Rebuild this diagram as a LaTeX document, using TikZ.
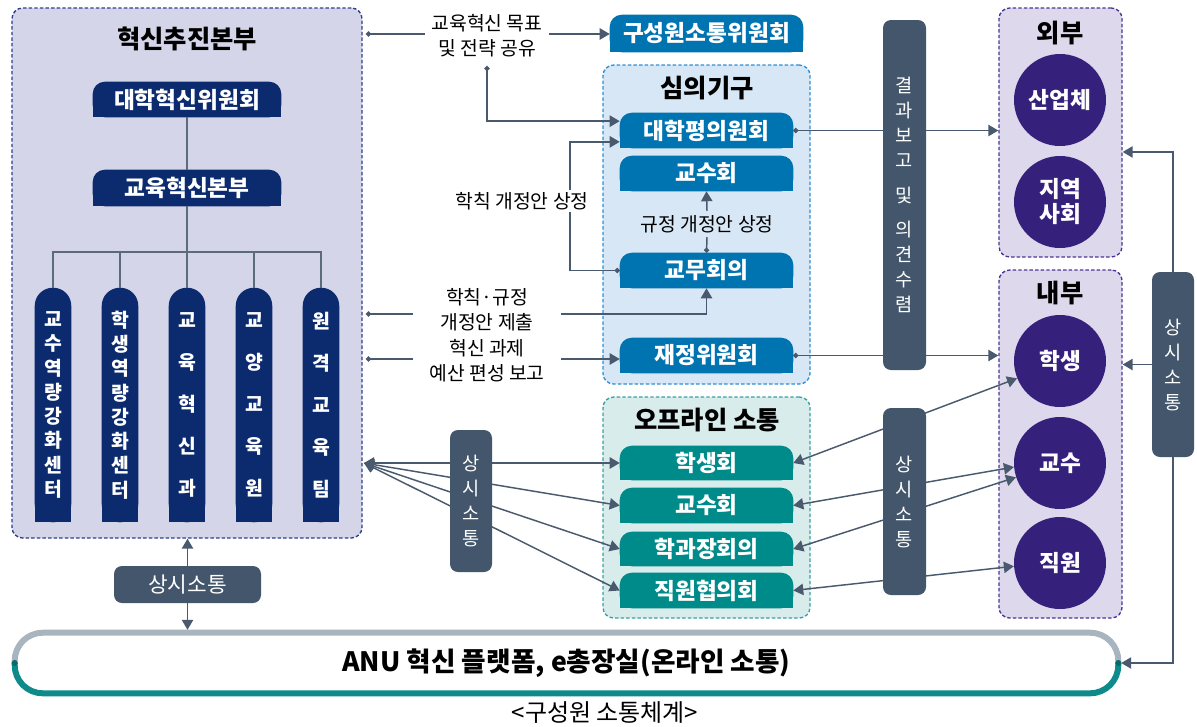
\documentclass[tikz,border=0pt]{standalone}
\usepackage{fontspec}
\newfontfamily\kr{Noto Sans CJK KR}
\usetikzlibrary{arrows.meta,fit}
\pgfdeclarelayer{bg}
\pgfdeclarelayer{mid}
\pgfsetlayers{bg,mid,main}
\definecolor{lnc}{HTML}{4A5A6E}
\definecolor{busc}{HTML}{5C6B7C}
\definecolor{navy}{HTML}{0C2B6F}
\definecolor{blu}{HTML}{0073B1}
\definecolor{tealc}{HTML}{008B8B}
\definecolor{slate}{HTML}{43566B}
\definecolor{purp}{HTML}{35217B}
\definecolor{lav}{HTML}{D5D5E9}
\definecolor{lavb}{HTML}{2E3E8E}
\definecolor{ltb}{HTML}{D7E7F5}
\definecolor{ltbb}{HTML}{2F8FD6}
\definecolor{ltt}{HTML}{D8ECEC}
\definecolor{lttb}{HTML}{3A9FA0}
\definecolor{plav}{HTML}{DDD8EB}
\definecolor{plavb}{HTML}{4A3596}
\definecolor{pgrey}{HTML}{A9B5BE}
\definecolor{pteal}{HTML}{0E8A8A}
\definecolor{pdark}{HTML}{0A6A6A}
\tikzset{
 bx/.style n args={4}{minimum width={((#3)-(#1))*0.75pt}, minimum height={((#4)-(#2))*0.75pt}, at={({((#1)+(#3))/2},{((#2)+(#4))/2})}},
 ln/.style={draw=lnc, line width=1.1pt},
 busln/.style={draw=busc, line width=1.1pt},
 arrowend/.style={-{Triangle[length=7.5pt,width=8.5pt]}},
 dtip/.style={{Circle[length=3.8pt]}-{Triangle[length=7.5pt,width=8.5pt]}},
 dstart/.style={{Circle[length=3.8pt]}-},
 twoway/.style={{Triangle[length=7.5pt,width=8.5pt]}-{Triangle[length=7.5pt,width=8.5pt]}},
 cont/.style={inner sep=0pt, dash pattern=on 2.6pt off 1.6pt, line width=1pt, rounded corners=8pt},
 ttl/.style={font=\kr\bfseries\fontsize{19}{22}\selectfont, text=black},
 lbl/.style={font=\kr\fontsize{14.5}{18.75}\selectfont, align=center, text=black},
 wt/.style={inner sep=0pt, text=white, font=\kr\bfseries\fontsize{17}{20}\selectfont, align=center},
 slatebox/.style={inner sep=0pt, fill=slate, rounded corners=6pt, text=white, align=center, font=\kr\fontsize{14}{18.75}\selectfont},
 circ/.style={circle, fill=purp, minimum size=69pt, inner sep=0pt, text=white, align=center, font=\kr\bfseries\fontsize{17}{18.75}\selectfont},
}
\newcommand{\tbox}[7]{%
 \node[wt, bx={#2}{#3}{#4}{#5}] (#1) {#7};
 \begin{pgfonlayer}{mid}
 \fill[#6, rounded corners=9pt] (#1.south west) rectangle (#1.north east);
 \fill[#6] (#1.south west) rectangle (#1.east);
 \end{pgfonlayer}}
\newcommand{\pbox}[4]{%
 \node[wt, bx={#2-18}{288}{#2+18}{522}, font=\kr\bfseries\fontsize{14.5}{#3}\selectfont] (#1) {#4};
 \begin{pgfonlayer}{mid}
 \fill[navy, rounded corners=13.5pt] (#1.south west) rectangle (#1.north east);
 \fill[navy] (#1.south west) rectangle (#1.east);
 \end{pgfonlayer}}
\begin{document}
\begin{tikzpicture}[x=0.75pt,y=-0.75pt,font=\kr]
\useasboundingbox (0,0) rectangle (1197,726);
% containers
\begin{pgfonlayer}{bg}
\node[cont, fit={(12,8) (362,538)}, fill=lav, draw=lavb] (hq) {};
\node[cont, fit={(603,65) (810,384)}, fill=ltb, draw=ltbb] (delib) {};
\node[cont, fit={(603,397) (810,618)}, fill=ltt, draw=lttb] (off) {};
\node[cont, fit={(999,8) (1122,257)}, fill=plav, draw=plavb] (ext) {};
\node[cont, fit={(999,270) (1122,618)}, fill=plav, draw=plavb] (int) {};
\end{pgfonlayer}
% titles
\node[ttl] (t1) at (187,39) {혁신추진본부};
\node[ttl] (t2) at (707,88) {심의기구};
\node[ttl] (t3) at (707,420) {오프라인 소통};
\node[ttl] (t4) at (1060,33) {외부};
\node[ttl] (t5) at (1060,293) {내부};
% navy boxes
\tbox{uic}{93}{82}{281}{117}{navy}{대학혁신위원회}
\tbox{ehb}{93}{170}{281}{206}{navy}{교육혁신본부}
\pbox{p1}{53}{18.2pt}{교\\수\\역\\량\\강\\화\\센\\터}
\pbox{p2}{120}{18.2pt}{학\\생\\역\\량\\강\\화\\센\\터}
\pbox{p3}{187}{31.5pt}{교\\육\\혁\\신\\과}
\pbox{p4}{254}{31.5pt}{교\\양\\교\\육\\원}
\pbox{p5}{321}{31.5pt}{원\\격\\교\\육\\팀}
\coordinate (busy) at (187,252);
\draw[busln] (uic.south) -- (ehb.north);
\draw[busln] (ehb.south) -- (p3.north);
\draw[busln] (p1.north) -- (p1.north |- busy) -- (p5.north |- busy) -- (p5.north);
\draw[busln] (p2.north) -- (p2.north |- busy);
\draw[busln] (p4.north) -- (p4.north |- busy);
% blue boxes
\tbox{kso}{610}{15}{803}{52}{blu}{구성원소통위원회}
\tbox{pyeong}{620}{113}{793}{148}{blu}{대학평의원회}
\tbox{kyosu}{620}{156}{793}{191}{blu}{교수회}
\tbox{gm}{620}{253}{793}{288}{blu}{교무회의}
\tbox{jj}{620}{338}{793}{373}{blu}{재정위원회}
% teal boxes
\tbox{hs}{620}{446}{793}{480}{tealc}{학생회}
\tbox{kh}{620}{488}{793}{523}{tealc}{교수회}
\tbox{hg}{620}{532}{793}{566}{tealc}{학과장회의}
\tbox{jw}{620}{573}{793}{608}{tealc}{직원협의회}
% slate boxes
\node[slatebox, bx={883}{20}{926}{370}] (res) {결\\과\\보\\고\\[7pt]및\\[7pt]의\\견\\수\\렴};
\node[slatebox, bx={450}{430}{492}{572}] (ms) {상\\시\\소\\통};
\node[slatebox, bx={883}{408}{926}{595}] (rms) {상\\시\\소\\통};
\node[slatebox, bx={1152}{272}{1194}{457}] (rs) {상\\시\\소\\통};
\node[slatebox, bx={114}{566}{261}{603}, font=\kr\fontsize{16}{18}\selectfont] (ls) {상시소통};
% circles
\node[circ] (ind) at (1060,100) {산업체};
\node[circ] (com) at (1060,202) {지역\\사회};
\node[circ] (stu) at (1060,361) {학생};
\node[circ] (prof) at (1060,463) {교수};
\node[circ] (staff) at (1060,563) {직원};
% labels
\node[lbl, minimum width=93pt, inner sep=0pt] (lab1) at (487,35.5) {교육혁신 목표\\및 전략 공유};
\node[lbl, fill=white, inner sep=2pt] (lab3) at (522,201) {학칙 개정안 상정};
\node[lbl, inner sep=3pt] (lab4) at (707,224) {규정 개정안 상정};
\node[lbl, minimum width=111pt, inner sep=0pt] (lab5) at (487,309.5) {학칙·규정\\개정안 제출};
\node[lbl, minimum width=111pt, inner sep=0pt] (lab6) at (487,360.5) {혁신 과제\\예산 편성 보고};
% platform
\node[inner sep=0pt, bx={15}{633}{1118}{693}, font=\kr\bfseries\fontsize{20}{22}\selectfont] (plat) {ANU 혁신 플랫폼, e총장실(온라인 소통)};
\begin{scope}
\clip (0,0) rectangle (1197,663);
\draw[pgrey, line width=4.5pt, rounded corners=21pt] (plat.south west) rectangle (plat.north east);
\end{scope}
\begin{scope}
\clip (0,663) rectangle (1197,726);
\draw[pteal, line width=4.5pt, rounded corners=21pt] (plat.south west) rectangle (plat.north east);
\end{scope}
\fill[pdark] (plat.west) circle (2.3pt);
\fill[pdark] (plat.east) circle (2.3pt);
\node[font=\kr\fontsize{18}{20}\selectfont] (cap) at (605,713) {<구성원 소통체계>};
% connectors
\begin{pgfonlayer}{mid}
\coordinate (d1) at (366,34);
\draw[ln, dstart] (d1) -- (d1 -| lab1.west);
\draw[ln, arrowend] (d1 -| lab1.east) -- (d1 -| kso.west);
\coordinate (d2) at (487,66);
\draw[ln, dtip] (d2) |- ([yshift=7pt]pyeong.west);
\coordinate (bend1) at (570,200);
\draw[ln, dtip] (gm.west) -| (bend1) |- ([yshift=-8.5pt]pyeong.west);
\draw[ln, dstart] (gm.north) -- (lab4.south);
\draw[ln, arrowend] (lab4.north) -- (kyosu.south);
\coordinate (d5) at (366,314);
\draw[ln, dstart] (d5) -- (d5 -| lab5.west);
\draw[ln, arrowend] (d5 -| lab5.east) -| (gm.south);
\coordinate (d6) at (366,359);
\draw[ln, dstart] (d6) -- (d6 -| lab6.west);
\draw[ln, arrowend] (d6 -| lab6.east) -- (d6 -| jj.west);
\draw[ln, dtip] (pyeong.east) -- (pyeong.east -| ext.west);
\draw[ln, dtip] (jj.east) -- (jj.east -| int.west);
\draw[ln, arrowend] (rs.north) |- ([yshift=-14.6pt]ext.east);
\draw[ln, arrowend] (rs.west) -- (rs.west -| int.east);
\draw[ln, arrowend] (rs.south) |- ([xshift=2.2pt]plat.east);
\draw[ln, arrowend] (ls.north) -- (ls.north |- hq.south);
\draw[ln, arrowend, shorten >=2.2pt] (ls.south) -- (ls.south |- plat.north);
\coordinate (cv) at (364,463);
\draw[ln, twoway] (cv) -- (hs.west);
\draw[ln, twoway] (cv) -- (kh.west);
\draw[ln, twoway] (cv) -- (hg.west);
\draw[ln, twoway] (cv) -- (jw.west);
\draw[ln, twoway] (hs.east) -- (stu.202);
\draw[ln, twoway] (kh.east) -- (prof.185);
\draw[ln, twoway] (hg.east) -- (prof.198);
\draw[ln, twoway] (jw.east) -- (staff.184);
\end{pgfonlayer}
\end{tikzpicture}
\end{document}
